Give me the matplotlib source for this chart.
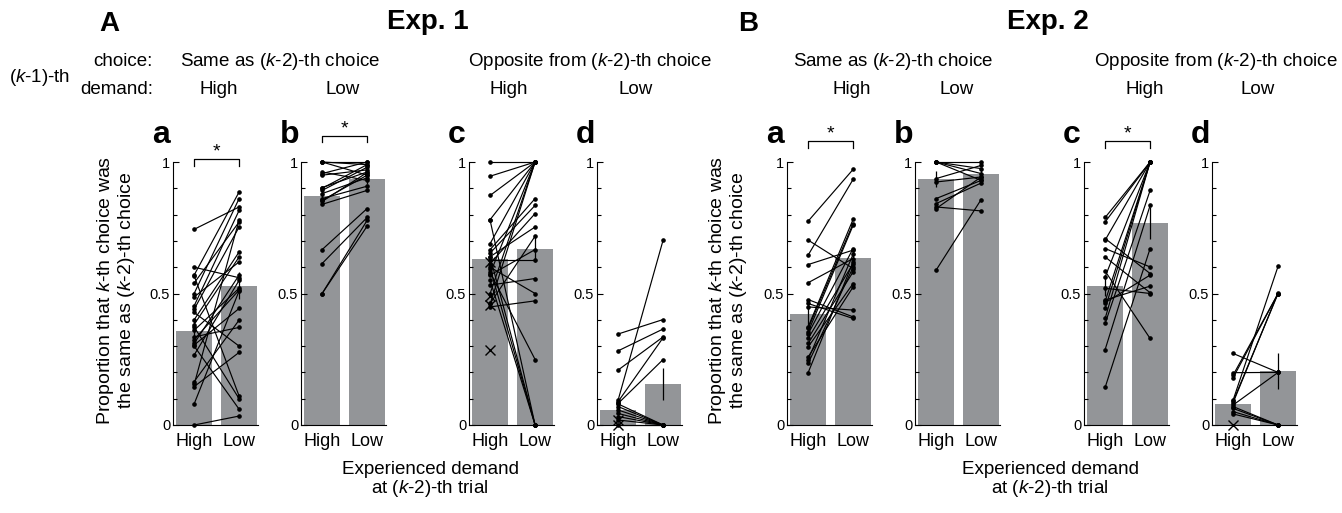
import matplotlib
matplotlib.use("Agg")
import matplotlib.pyplot as plt
import numpy as np

plt.rcParams['font.family'] = ['Liberation Sans', 'DejaVu Sans']
plt.rcParams['mathtext.fontset'] = 'custom'
plt.rcParams['mathtext.rm'] = 'Liberation Sans'
plt.rcParams['mathtext.it'] = 'Liberation Sans:italic'
plt.rcParams['mathtext.bf'] = 'Liberation Sans:bold'

# ---------------- data ----------------
conditions = ["High", "Low"]
panel_letters = ["a", "b", "c", "d"]

# Exp. 1 individual subjects (High, Low)
e1a_high = [0.744, 0.60, 0.57, 0.567, 0.54, 0.50, 0.487, 0.453, 0.44, 0.428, 0.40, 0.382, 0.373,
            0.335, 0.325, 0.31, 0.304, 0.266, 0.165, 0.154, 0.146, 0.08, 0.0, 0.30, 0.36]
e1a_low = [0.829, 0.56, 0.886, 0.11, 0.772, 0.861, 0.62, 0.816, 0.753, 0.30, 0.658, 0.639, 0.10,
           0.371, 0.513, 0.57, 0.443, 0.55, 0.399, 0.78, 0.276, 0.51, 0.034, 0.06, 0.52]
e1b_high = [1.0, 1.0, 1.0, 0.962, 0.956, 0.903, 0.892, 0.861, 0.854, 0.839, 0.95, 0.88, 0.667,
            0.614, 0.5, 0.5, 0.9, 0.85]
e1b_low = [0.95, 0.99, 1.0, 0.93, 1.0, 0.962, 0.98, 0.908, 0.95, 0.892, 0.97, 0.94, 0.823,
           0.789, 0.778, 0.756, 0.99, 0.96]
e1c_high = [1.0, 0.946, 0.873, 0.781, 0.778, 0.69, 0.667, 0.654, 0.639, 0.627, 0.614, 0.595,
            0.576, 0.57, 0.532, 0.462, 0.449, 0.60, 0.64, 0.55, 0.58, 0.46, 0.50]
e1c_low = [1.0, 1.0, 1.0, 1.0, 0.0, 1.0, 0.861, 0.835, 0.0, 0.627, 0.804, 0.0,
           1.0, 0.667, 0.557, 0.718, 0.472, 0.5, 0.753, 0.0, 0.249, 1.0, 1.0]
e1c_cross = [0.62, 0.49, 0.455, 0.285]
e1d_high = [0.346, 0.282, 0.209, 0.095, 0.089, 0.082, 0.07, 0.057, 0.044, 0.032, 0.019, 0.0, 0.08]
e1d_low = [0.401, 0.365, 0.335, 0.703, 0.332, 0.249, 0.0, 0.0, 0.0, 0.0, 0.0, 0.0, 0.0]
e1d_cross = [0.0, 0.02]

# Exp. 2 individual subjects (High, Low)
e2a_high = [0.775, 0.646, 0.703, 0.61, 0.541, 0.477, 0.462, 0.449, 0.373, 0.367, 0.354, 0.346,
            0.329, 0.31, 0.297, 0.259, 0.249, 0.234, 0.199]
e2a_low = [0.972, 0.934, 0.595, 0.665, 0.633, 0.411, 0.405, 0.437, 0.782, 0.766, 0.759, 0.671,
           0.614, 0.582, 0.538, 0.525, 0.649, 0.60, 0.62]
e2b_high = [1.0, 1.0, 1.0, 0.937, 0.924, 0.861, 0.842, 0.829, 0.823, 0.589, 1.0]
e2b_low = [1.0, 0.956, 0.975, 0.987, 0.943, 0.93, 0.92, 0.814, 0.943, 0.857, 0.93]
e2c_high = [0.789, 0.772, 0.709, 0.703, 0.671, 0.639, 0.585, 0.563, 0.475, 0.465, 0.443, 0.405,
            0.386, 0.287, 0.143, 0.47, 0.52]
e2c_low = [1.0, 1.0, 0.576, 1.0, 0.601, 0.503, 0.329, 1.0, 0.528, 0.57, 1.0, 1.0,
           0.892, 0.835, 0.671, 1.0, 0.50]
e2d_high = [0.272, 0.199, 0.19, 0.095, 0.085, 0.076, 0.063, 0.051, 0.042, 0.09, 0.07, 0.18]
e2d_low = [0.2, 0.2, 0.5, 0.604, 0.503, 0.2, 0.0, 0.0, 0.0, 0.5, 0.0, 0.5]
e2d_cross = [0.0]

# bar heights (group means) and error bars (SEM)
e1_means_high = [0.359, 0.871, 0.631, 0.057]
e1_means_low = [0.530, 0.935, 0.669, 0.156]
e1_sem_high = [0.04, 0.03, 0.04, 0.02]
e1_sem_low = [0.05, 0.02, 0.05, 0.06]
e2_means_high = [0.422, 0.935, 0.530, 0.080]
e2_means_low = [0.636, 0.955, 0.768, 0.205]
e2_sem_high = [0.04, 0.03, 0.04, 0.02]
e2_sem_low = [0.03, 0.015, 0.06, 0.07]

e1_sig = [True, True, False, False]
e2_sig = [True, False, True, False]

# ---------------- layout ----------------
W, H = 1342, 513
DPI = 100
fig = plt.figure(figsize=(W / DPI, H / DPI), dpi=DPI)

BAR_COLOR = "#939598"
AX_W = 85
AX_TOP = 162
AX_BOT = 425


def fx(x):
    return x / W


def fy(y):
    return 1 - y / H


def make_panel(left_px, letter, high, low, mh, ml, sh, sl, sig, sig_y, crosses):
    ax = fig.add_axes([fx(left_px), fy(AX_BOT), AX_W / W, (AX_BOT - AX_TOP) / H])
    xs = np.array([1, 2])
    ax.bar(xs, [mh, ml], width=0.8, color=BAR_COLOR, zorder=1)
    for h, l in zip(high, low):
        ax.plot(xs, [h, l], color="black", lw=0.85, marker="o", ms=2.3,
                mfc="black", mec="black", zorder=3, clip_on=False)
    if crosses:
        ax.plot(np.ones(len(crosses)), crosses, ls="none", marker="x", ms=7,
                mew=1.0, color="black", zorder=4, clip_on=False)
    ax.errorbar(xs, [mh, ml], yerr=[sh, sl], fmt="none", ecolor="black",
                elinewidth=0.9, capsize=0, zorder=2)
    ax.set_xlim(0.53, 2.42)
    ax.set_ylim(0, 1)
    ax.set_yticks([0, 0.5, 1])
    ax.set_yticklabels(["0", "0.5", "1"], fontsize=10.5)
    ax.set_yticks(np.arange(0, 1.01, 0.1), minor=True)
    ax.tick_params(axis="y", which="both", direction="in", length=3, width=0.8, pad=2)
    ax.tick_params(axis="y", which="major", length=4)
    ax.set_xticks(xs)
    ax.set_xticklabels(conditions, fontsize=13)
    ax.tick_params(axis="x", length=0, pad=6)
    for s in ["top", "right"]:
        ax.spines[s].set_visible(False)
    ax.spines["left"].set_linewidth(0.8)
    ax.spines["bottom"].set_linewidth(0.8)
    fig.text(fx(left_px - 21), fy(143), letter, fontsize=23, fontweight="bold",
             ha="left", va="baseline")
    if sig:
        y0 = sig_y
        ax.plot([1, 1, 2, 2], [y0 - 0.025, y0, y0, y0 - 0.025], color="black", lw=0.9,
                clip_on=False)
        ax.text(1.5, y0 - 0.005, "*", ha="center", va="bottom", fontsize=14)
    return ax


e1_left = [173, 301, 469, 597]
e2_left = [787, 915, 1084, 1212]
e1_sig_y = [1.01, 1.10, 1.0, 1.0]
e2_sig_y = [1.08, 1.0, 1.08, 1.0]

e1_high = [e1a_high, e1b_high, e1c_high, e1d_high]
e1_low = [e1a_low, e1b_low, e1c_low, e1d_low]
e1_cross = [None, None, e1c_cross, e1d_cross]
e2_high = [e2a_high, e2b_high, e2c_high, e2d_high]
e2_low = [e2a_low, e2b_low, e2c_low, e2d_low]
e2_cross = [None, None, None, e2d_cross]

for i in range(4):
    make_panel(e1_left[i], panel_letters[i], e1_high[i], e1_low[i], e1_means_high[i],
               e1_means_low[i], e1_sem_high[i], e1_sem_low[i], e1_sig[i], e1_sig_y[i], e1_cross[i])
    make_panel(e2_left[i], panel_letters[i], e2_high[i], e2_low[i], e2_means_high[i],
               e2_means_low[i], e2_sem_high[i], e2_sem_low[i], e2_sig[i], e2_sig_y[i], e2_cross[i])

# y labels
ylab = "Proportion that $\\it{k}$-th choice was\nthe same as ($\\it{k}$-2)-th choice"
for xc in [116, 728]:
    fig.text(fx(xc), fy(290), ylab, rotation=90, ha="center", va="center",
             fontsize=14, multialignment="center", linespacing=1.0)

# headers
fig.text(fx(109), fy(24), "A", fontsize=20, fontweight="bold", ha="center", va="center")
fig.text(fx(428), fy(22), "Exp. 1", fontsize=20, fontweight="bold", ha="center", va="center")
fig.text(fx(748), fy(24), "B", fontsize=20, fontweight="bold", ha="center", va="center")
fig.text(fx(1048), fy(22), "Exp. 2", fontsize=20, fontweight="bold", ha="center", va="center")

HF = 13.5
fig.text(fx(40), fy(77), "($\\it{k}$-1)-th", fontsize=HF, ha="center", va="center")
fig.text(fx(153), fy(61), "choice:", fontsize=HF, ha="right", va="center")
fig.text(fx(153), fy(89), "demand:", fontsize=HF, ha="right", va="center")

same_txt = "Same as ($\\it{k}$-2)-th choice"
opp_txt = "Opposite from ($\\it{k}$-2)-th choice"
header_same_x = [280, 893]
header_opp_x = [590, 1216]
header_high_x = [[219, 509], [852, 1145]]
header_low_x = [[343, 636], [957, 1258]]
for e in range(2):
    fig.text(fx(header_same_x[e]), fy(61), same_txt, fontsize=HF, ha="center", va="center")
    fig.text(fx(header_opp_x[e]), fy(61), opp_txt, fontsize=HF, ha="center", va="center")
    for j in range(2):
        fig.text(fx(header_high_x[e][j]), fy(89), "High", fontsize=HF, ha="center", va="center")
        fig.text(fx(header_low_x[e][j]), fy(89), "Low", fontsize=HF, ha="center", va="center")

# bottom x labels
xlab = "Experienced demand\nat ($\\it{k}$-2)-th trial"
for xc in [430, 1050]:
    fig.text(fx(xc), fy(480), xlab, fontsize=13.5, ha="center", va="center",
             multialignment="center", linespacing=1.0)

fig.savefig("out.png", dpi=DPI)
